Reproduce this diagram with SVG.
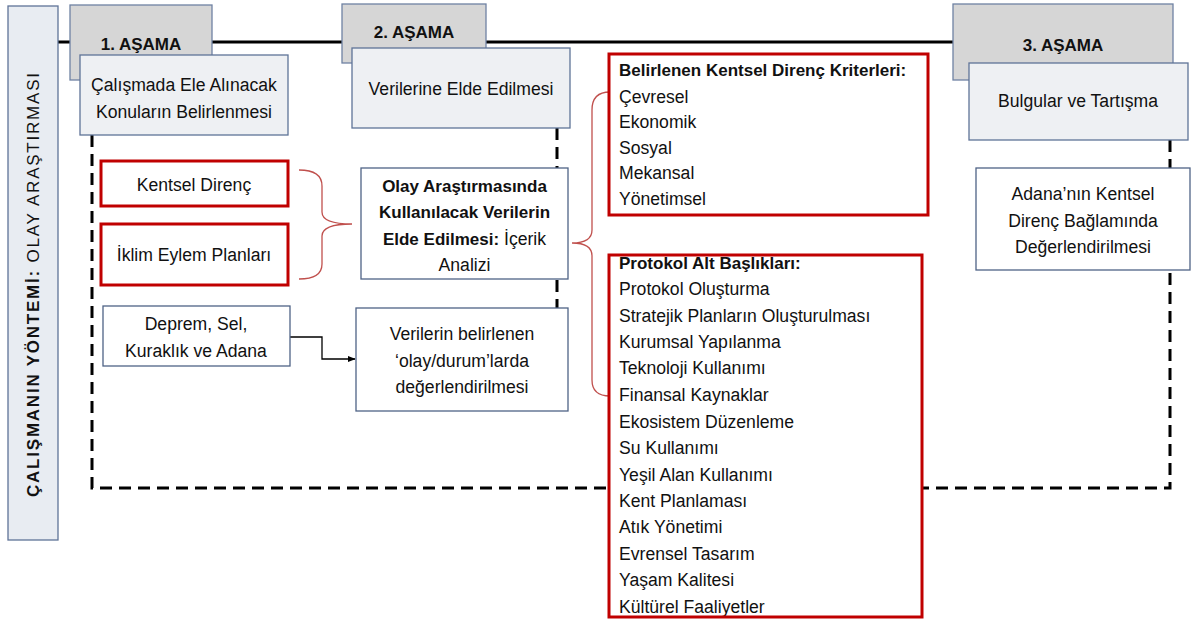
<svg xmlns="http://www.w3.org/2000/svg" width="1194" height="624" viewBox="0 0 1194 624">
<style>
  text { font-family: "Liberation Sans", Arial, sans-serif; font-size: 17.6px; fill: #111; }
  .b { font-weight: bold; font-size: 17px; }
  tspan.b { font-size: 17px; }
  .c { text-anchor: middle; }
  .stage { fill: #d6d6d6; stroke: #6f82a3; stroke-width: 1.3; }
  .sub { fill: #eef0f3; stroke: #5f7397; stroke-width: 1.3; }
  .wbox { fill: #ffffff; stroke: #4f6386; stroke-width: 1.3; }
  .rbox { fill: #ffffff; stroke: #c00000; stroke-width: 3; }
  .dash { fill: none; stroke: #000; stroke-width: 3; stroke-dasharray: 12 7; }
  .brace { fill: none; stroke: #c0504d; stroke-width: 1.3; }
</style>
<defs>
  <marker id="arr" viewBox="0 0 10 10" refX="9" refY="5" markerWidth="6" markerHeight="6" orient="auto">
    <path d="M0,1 L10,5 L0,9 z" fill="#000"/>
  </marker>
</defs>
<rect width="1194" height="624" fill="#ffffff"/>

<g id="connectors">
  <line x1="58" y1="42" x2="960" y2="42" stroke="#000" stroke-width="3"/>
  <path class="dash" d="M92,135 L92,488 L1170,488 L1170,140"/>
  <line class="dash" x1="557" y1="128" x2="557" y2="308"/>
  <path class="brace" d="M299,170 Q322,170 322,186 L322,212 Q322,224 352,224 Q322,224 322,236 L322,264 Q322,279 299,279"/>
  <path class="brace" d="M610,92 Q592,92 592,110 L592,230 Q592,243 572,243 Q592,243 592,256 L592,380 Q592,396 610,396"/>
  <path d="M290,337 L322,337 L322,359 L355,359" fill="none" stroke="#000" stroke-width="1.3" marker-end="url(#arr)"/>
</g>

<g id="method">
  <rect x="8" y="6" width="50" height="534" fill="#e8ecf2" stroke="#5f7397" stroke-width="1.3"/>
  <text transform="translate(39,285) rotate(-90)" class="c" style="font-size:17px" textLength="424" lengthAdjust="spacing"><tspan class="b">ÇALIŞMANIN YÖNTEMİ:</tspan> OLAY ARAŞTIRMASI</text>
</g>

<g id="stage1">
  <rect class="stage" x="70" y="5" width="142" height="75"/>
  <text class="b c" x="141" y="50">1. AŞAMA</text>
</g>
<g id="stage1-sub">
  <rect class="sub" x="80" y="55" width="208" height="80"/>
  <text class="c" x="184" y="91">Çalışmada Ele Alınacak</text>
  <text class="c" x="184" y="118">Konuların Belirlenmesi</text>
</g>

<g id="stage2">
  <rect class="stage" x="342" y="4" width="144" height="59"/>
  <text class="b c" x="414" y="38">2. AŞAMA</text>
</g>
<g id="stage2-sub">
  <rect class="sub" x="352" y="48" width="218" height="80"/>
  <text class="c" x="461" y="95">Verilerine  Elde Edilmesi</text>
</g>

<g id="stage3">
  <rect class="stage" x="953" y="4" width="220" height="76"/>
  <text class="b c" x="1063" y="51">3. AŞAMA</text>
</g>
<g id="stage3-sub">
  <rect class="sub" x="969" y="63" width="219" height="77"/>
  <text class="c" x="1078" y="107">Bulgular ve Tartışma</text>
</g>

<g id="kentsel-direnc">
  <rect class="rbox" x="101" y="161" width="187" height="45"/>
  <text class="c" x="194" y="191">Kentsel Direnç</text>
</g>
<g id="iklim">
  <rect class="rbox" x="101" y="224" width="187" height="61"/>
  <text class="c" x="194" y="261">İklim Eylem Planları</text>
</g>
<g id="deprem">
  <rect class="wbox" x="103" y="306" width="187" height="60"/>
  <text class="c" x="196" y="330">Deprem, Sel,</text>
  <text class="c" x="196" y="357">Kuraklık ve Adana</text>
</g>

<g id="olay">
  <rect class="wbox" x="361" y="168" width="207" height="111"/>
  <text class="c b" x="464.5" y="192">Olay Araştırmasında</text>
  <text class="c b" x="464.5" y="218">Kullanılacak  Verilerin</text>
  <text class="c" x="464.5" y="245"><tspan class="b">Elde Edilmesi:</tspan> İçerik</text>
  <text class="c" x="464.5" y="271">Analizi</text>
</g>
<g id="verilerin">
  <rect class="wbox" x="356" y="308" width="212" height="103"/>
  <text class="c" x="462" y="340">Verilerin  belirlenen</text>
  <text class="c" x="462" y="367">‘olay/durum’larda</text>
  <text class="c" x="462" y="393">değerlendirilmesi</text>
</g>

<g id="kriterler">
  <rect class="rbox" x="609" y="54" width="319" height="161"/>
  <text class="b" x="619" y="76">Belirlenen Kentsel Direnç Kriterleri:</text>
  <text x="619" y="103">Çevresel</text>
  <text x="619" y="128">Ekonomik</text>
  <text x="619" y="154">Sosyal</text>
  <text x="619" y="179">Mekansal</text>
  <text x="619" y="205">Yönetimsel</text>
</g>

<g id="protokol">
  <rect x="609" y="255" width="313" height="362" fill="#ffffff"/>
  <text class="b" x="619" y="269">Protokol  Alt Başlıkları:</text>
  <text x="619" y="295">Protokol Oluşturma</text>
  <text x="619" y="322">Stratejik Planların Oluşturulması</text>
  <text x="619" y="348">Kurumsal Yapılanma</text>
  <text x="619" y="374">Teknoloji Kullanımı</text>
  <text x="619" y="401">Finansal Kaynaklar</text>
  <text x="619" y="428">Ekosistem  Düzenleme</text>
  <text x="619" y="454">Su Kullanımı</text>
  <text x="619" y="481">Yeşil Alan Kullanımı</text>
  <text x="619" y="507">Kent Planlaması</text>
  <text x="619" y="533">Atık Yönetimi</text>
  <text x="619" y="560">Evrensel  Tasarım</text>
  <text x="619" y="586">Yaşam Kalitesi</text>
  <text x="619" y="613">Kültürel Faaliyetler</text>
  <rect x="609" y="255" width="313" height="362" fill="none" stroke="#c00000" stroke-width="3"/>
</g>

<g id="adana">
  <rect class="wbox" x="976" y="168" width="214" height="102"/>
  <text class="c" x="1083" y="200">Adana’nın Kentsel</text>
  <text class="c" x="1083" y="227">Direnç Bağlamında</text>
  <text class="c" x="1083" y="253">Değerlendirilmesi</text>
</g>
</svg>
